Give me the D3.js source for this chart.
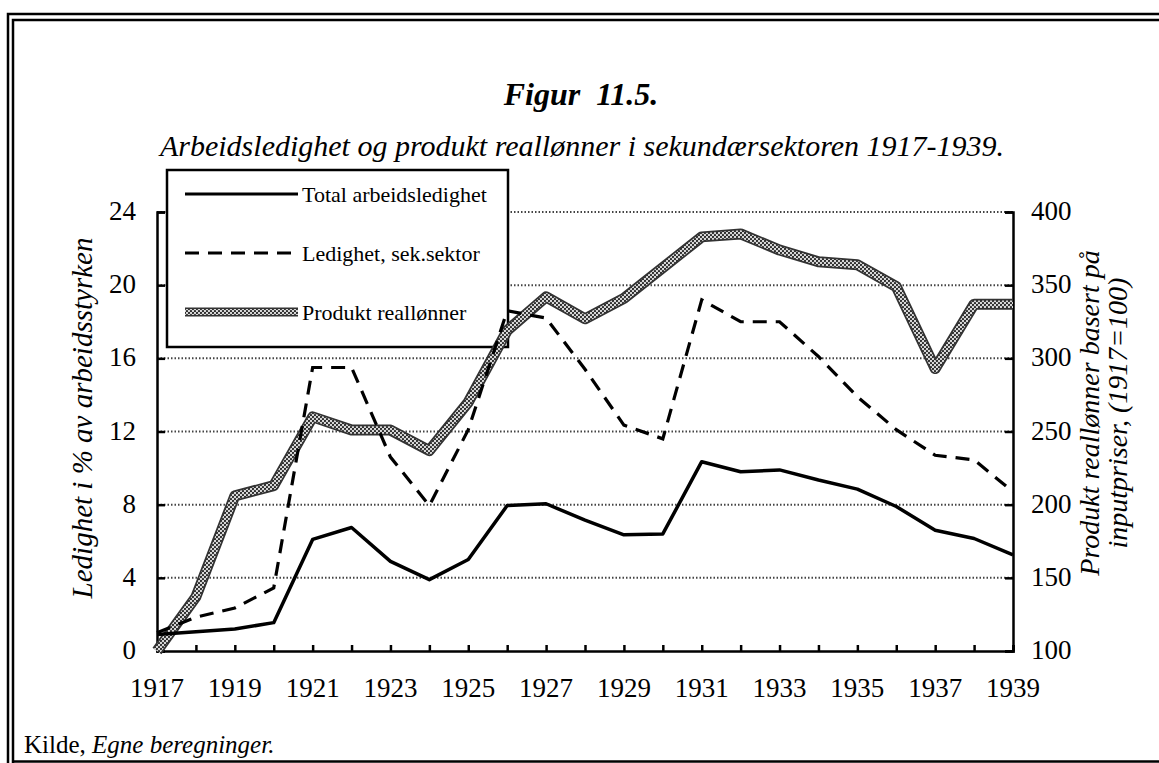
<!DOCTYPE html>
<html>
<head>
<meta charset="utf-8">
<script src="https://cdn.jsdelivr.net/npm/d3@7"></script>
<style>
  body { margin: 0; background: #fff; }
  svg { display: block; }
  svg text { font-family: "Liberation Serif", "Times New Roman", serif; fill: #000; }
</style>
</head>
<body>
<svg id="chart"></svg>
<script>
// data
var years = d3.range(1917, 1940);
var totalLedighet = [0.9, 1.05, 1.2, 1.55, 6.1, 6.75, 4.9, 3.9, 5.0, 7.95, 8.05, 7.15, 6.35, 6.4, 10.35, 9.8, 9.9, 9.35, 8.85, 7.9, 6.6, 6.15, 5.25];
var sekLedighet = [1.0, 1.85, 2.35, 3.45, 15.5, 15.5, 10.6, 7.95, 12.1, 18.6, 18.2, 15.4, 12.35, 11.6, 19.2, 18.0, 18.0, 16.1, 13.9, 12.1, 10.7, 10.45, 8.7];
var reallonn = [100, 137, 206, 213, 260, 251, 251, 237, 270, 319, 342, 327, 341, 362, 383, 385, 374, 366, 364, 349, 293, 337, 337];
var leftTicks = [0, 4, 8, 12, 16, 20, 24];
var rightTicks = [100, 150, 200, 250, 300, 350, 400];
var yearLabels = d3.range(1917, 1940, 2);
var legendLabels = ["Total arbeidsledighet", "Ledighet, sek.sektor", "Produkt reallønner"];

var W = 1159, H = 763;
var svg = d3.select("#chart").attr("width", W).attr("height", H)
  .attr("font-family", "Liberation Serif, Times New Roman, serif");

// halvtone-mønster for den tykke linja
var defs = svg.append("defs");
var pat = defs.append("pattern")
  .attr("id", "halftone")
  .attr("width", 4).attr("height", 4)
  .attr("patternUnits", "userSpaceOnUse");
pat.append("rect").attr("width", 4).attr("height", 4).attr("fill", "#d8d8d8");
pat.append("circle").attr("cx", 1).attr("cy", 1).attr("r", 1.1).attr("fill", "#222");
pat.append("circle").attr("cx", 3).attr("cy", 3).attr("r", 1.1).attr("fill", "#222");

// ramme
var frame = svg.append("g").attr("stroke", "#000").attr("stroke-width", 2.5).attr("fill", "none");
frame.append("path").attr("d", "M8,763 V14 H1159");
frame.append("path").attr("d", "M13,763 V20 H1159");
frame.append("path").attr("d", "M13,761.5 H1159");

// skalaer
var xScale = d3.scaleLinear().domain([1917, 1939]).range([157, 1013]);
var yLeft = d3.scaleLinear().domain([0, 24]).range([651, 212]);
var yRight = d3.scaleLinear().domain([100, 400]).range([651, 212]);

// titler
svg.append("text")
  .attr("x", 581).attr("y", 105)
  .attr("text-anchor", "middle")
  .attr("font-size", 32).attr("font-weight", "bold").attr("font-style", "italic")
  .attr("word-spacing", 8)
  .text("Figur 11.5.");
svg.append("text")
  .attr("x", 582).attr("y", 156)
  .attr("text-anchor", "middle")
  .attr("font-size", 30).attr("font-style", "italic")
  .text("Arbeidsledighet og produkt reallønner i sekundærsektoren 1917-1939.");

// rutenett
svg.append("g")
  .selectAll("line")
  .data(leftTicks.filter(function(d) { return d > 0; }))
  .join("line")
  .attr("x1", xScale(1917)).attr("x2", xScale(1939))
  .attr("y1", function(d) { return yLeft(d); })
  .attr("y2", function(d) { return yLeft(d); })
  .attr("stroke", "#444").attr("stroke-width", 2)
  .attr("stroke-dasharray", "1.5,2");

// legende-boks (dekker rutenettet)
var legend = svg.append("g");
legend.append("rect")
  .attr("x", 167).attr("y", 170).attr("width", 341).attr("height", 177)
  .attr("fill", "#fff").attr("stroke", "#000").attr("stroke-width", 2.5);

// akser
var xAxis = d3.axisBottom(xScale).tickValues(years).tickSize(-6).tickFormat("");
var leftAxis = d3.axisLeft(yLeft).tickValues(leftTicks).tickSize(-8).tickFormat("");
var rightAxis = d3.axisRight(yRight).tickValues(rightTicks).tickSize(-8).tickFormat("");

function styleAxis(g) {
  g.select(".domain").attr("stroke", "#000").attr("stroke-width", 2.5);
  g.selectAll(".tick line").attr("stroke", "#000").attr("stroke-width", 2.5);
}
svg.append("g").attr("transform", "translate(0,651)").call(xAxis).call(styleAxis);
svg.append("g").attr("transform", "translate(157,0)").call(leftAxis).call(styleAxis);
svg.append("g").attr("transform", "translate(1013,0)").call(rightAxis).call(styleAxis);

// akse-tall
var tickFont = 27;
svg.append("g").selectAll("text").data(leftTicks).join("text")
  .attr("x", 136).attr("y", function(d) { return yLeft(d) + 8; })
  .attr("text-anchor", "end").attr("font-size", tickFont)
  .text(function(d) { return d; });
svg.append("g").selectAll("text").data(rightTicks).join("text")
  .attr("x", 1031).attr("y", function(d) { return yRight(d) + 8; })
  .attr("text-anchor", "start").attr("font-size", tickFont)
  .text(function(d) { return d; });
svg.append("g").selectAll("text").data(yearLabels).join("text")
  .attr("x", function(d) { return xScale(d); }).attr("y", 697)
  .attr("text-anchor", "middle").attr("font-size", tickFont)
  .text(function(d) { return d; });

// aksetitler
svg.append("text")
  .attr("transform", "translate(92,418) rotate(-90)")
  .attr("text-anchor", "middle").attr("font-size", 29).attr("font-style", "italic")
  .text("Ledighet i % av arbeidsstyrken");
svg.append("text")
  .attr("transform", "translate(1099,413) rotate(-90)")
  .attr("text-anchor", "middle").attr("font-size", 28).attr("font-style", "italic")
  .text("Produkt reallønner basert på");
svg.append("text")
  .attr("transform", "translate(1127,413) rotate(-90)")
  .attr("text-anchor", "middle").attr("font-size", 28).attr("font-style", "italic")
  .text("inputpriser, (1917=100)");

// linjer
var lineLeft = d3.line()
  .x(function(d, i) { return xScale(years[i]); })
  .y(function(d) { return yLeft(d); });
var lineRight = d3.line()
  .x(function(d, i) { return xScale(years[i]); })
  .y(function(d) { return yRight(d); });

svg.append("path")
  .attr("d", lineRight(reallonn))
  .attr("fill", "none").attr("stroke", "#333").attr("stroke-width", 11)
  .attr("stroke-linejoin", "round");
svg.append("path")
  .attr("d", lineRight(reallonn))
  .attr("fill", "none").attr("stroke", "url(#halftone)").attr("stroke-width", 7.5)
  .attr("stroke-linejoin", "round");

svg.append("path")
  .attr("d", lineLeft(sekLedighet))
  .attr("fill", "none").attr("stroke", "#000").attr("stroke-width", 3.2)
  .attr("stroke-dasharray", "14,9");

svg.append("path")
  .attr("d", lineLeft(totalLedighet))
  .attr("fill", "none").attr("stroke", "#000").attr("stroke-width", 3.5)
  .attr("stroke-linejoin", "round");

// legende-innhold
var legendY = [194, 253, 312];
legend.append("line").attr("x1", 185).attr("x2", 298).attr("y1", legendY[0]).attr("y2", legendY[0])
  .attr("stroke", "#000").attr("stroke-width", 3);
legend.append("line").attr("x1", 185).attr("x2", 298).attr("y1", legendY[1]).attr("y2", legendY[1])
  .attr("stroke", "#000").attr("stroke-width", 3).attr("stroke-dasharray", "14,9");
legend.append("line").attr("x1", 185).attr("x2", 298).attr("y1", legendY[2]).attr("y2", legendY[2])
  .attr("stroke", "#333").attr("stroke-width", 9);
legend.append("line").attr("x1", 185).attr("x2", 298).attr("y1", legendY[2]).attr("y2", legendY[2])
  .attr("stroke", "url(#halftone)").attr("stroke-width", 6);
legend.selectAll("text.lbl").data(legendLabels).join("text")
  .attr("class", "lbl")
  .attr("x", 302).attr("y", function(d, i) { return legendY[i] + 8; })
  .attr("font-size", 22)
  .text(function(d) { return d; });

// kilde
var src = svg.append("text").attr("x", 24).attr("y", 753).attr("font-size", 25);
src.append("tspan").text("Kilde, ");
src.append("tspan").attr("font-style", "italic").text("Egne beregninger.");
</script>
</body>
</html>
